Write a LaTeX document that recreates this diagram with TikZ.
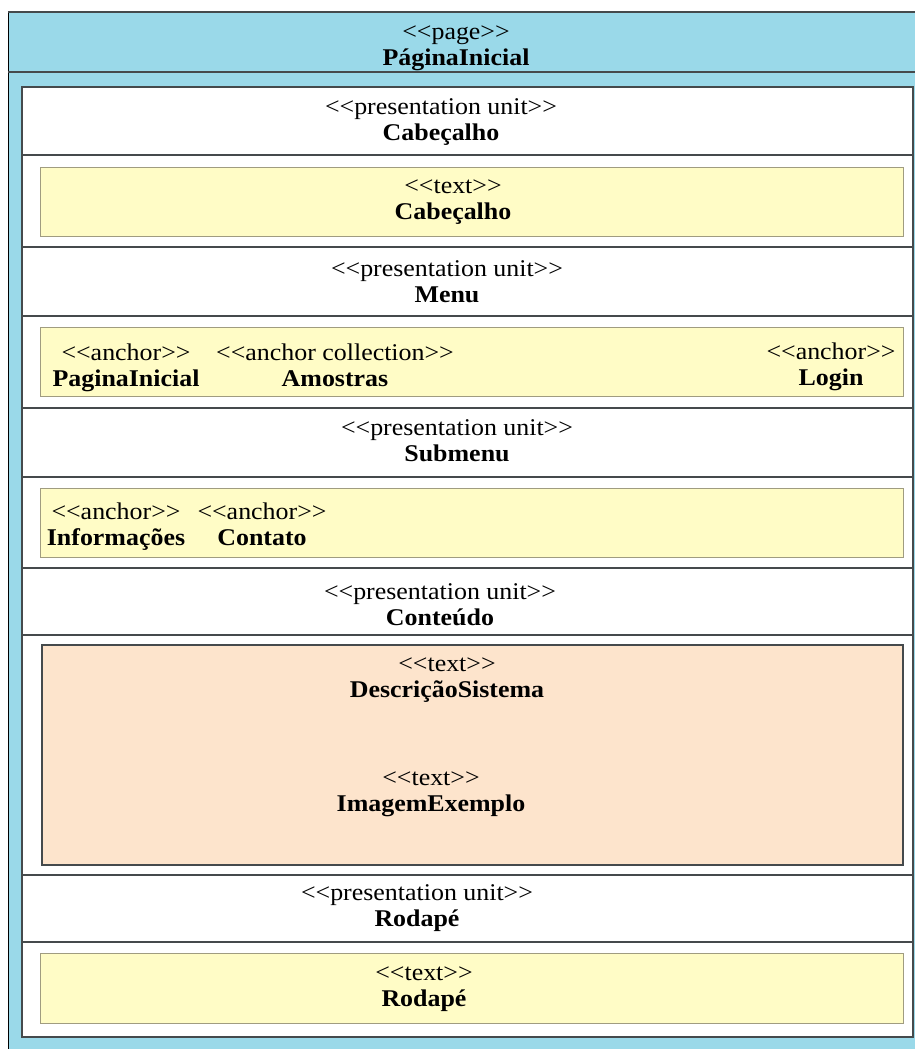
\documentclass[tikz,border=0pt]{standalone}
\usepackage{fontspec}
\setmainfont{Liberation Serif}[FakeStretch=1.08]
% stereotype and name on two lines; the kerns keep << and >> as plain brackets
\newcommand\umlname[2]{\strut<\kern0pt<#1>\kern0pt>\\\strut\textbf{#2}}
\begin{document}
\begin{tikzpicture}[x=1pt,y=-1pt,
  lbl/.style={align=center,inner sep=0pt,font=\fontsize{24}{26}\selectfont},
  pagefill/.style={fill=pageblue,draw=black,line width=1pt},
  unitline/.style={draw=linegray,line width=1.3pt},
  textbox/.style={fill=textyellow,draw=yellowedge,line width=1pt},
  contentbox/.style={fill=contentpeach,draw=linegray,line width=1.3pt}]
\definecolor{pageblue}{HTML}{9AD9E9}
\definecolor{textyellow}{HTML}{FFFCC6}
\definecolor{yellowedge}{HTML}{A09C80}
\definecolor{contentpeach}{HTML}{FDE4CC}
\definecolor{linegray}{HTML}{454A4C}
\useasboundingbox (0,0) rectangle (915,1049);
\clip (0,0) rectangle (915,1049);
% page frame
\draw[pagefill] (8,12) rectangle (930,1065);
\draw[unitline] (8,12) -- (930,12);
\draw[unitline] (8,72) -- (930,72);
% presentation units
\draw[fill=white,draw=linegray,line width=1.3pt] (22,87) rectangle (913,1037);
\foreach \yy in {155,247,316,408,477,568,635,875,942}
  \draw[unitline] (22,\yy) -- (913,\yy);
% inner elements
\draw[textbox] (40,167) rectangle (903,236);
\draw[textbox] (40,327) rectangle (903,396);
\draw[textbox] (40,488) rectangle (903,557);
\draw[contentbox] (42,645) rectangle (903,865);
\draw[textbox] (40,953) rectangle (903,1023);
% labels
\node[lbl] (page) at (456,47.5) {\umlname{page}{PáginaInicial}};
\node[lbl] (puCab) at (441,122) {\umlname{presentation unit}{Cabeçalho}};
\node[lbl] (txCab) at (453,201.5) {\umlname{text}{Cabeçalho}};
\node[lbl] (puMenu) at (447,284) {\umlname{presentation unit}{Menu}};
\node[lbl] (anHome) at (126,368.5) {\umlname{anchor}{PaginaInicial}};
\node[lbl] (anAmostras) at (335,368.5) {\umlname{anchor collection}{Amostras}};
\node[lbl] (anLogin) at (831,367.5) {\umlname{anchor}{Login}};
\node[lbl] (puSub) at (457,443.5) {\umlname{presentation unit}{Submenu}};
\node[lbl] (anInfo) at (116,527.5) {\umlname{anchor}{Informações}};
\node[lbl] (anContato) at (262,527.5) {\umlname{anchor}{Contato}};
\node[lbl] (puCont) at (440,607.5) {\umlname{presentation unit}{Conteúdo}};
\node[lbl] (txDesc) at (447,679) {\umlname{text}{DescriçãoSistema}};
\node[lbl] (txImg) at (431,793.5) {\umlname{text}{ImagemExemplo}};
\node[lbl] (puRod) at (417,908) {\umlname{presentation unit}{Rodapé}};
\node[lbl] (txRod) at (424,988) {\umlname{text}{Rodapé}};
\end{tikzpicture}
\end{document}
